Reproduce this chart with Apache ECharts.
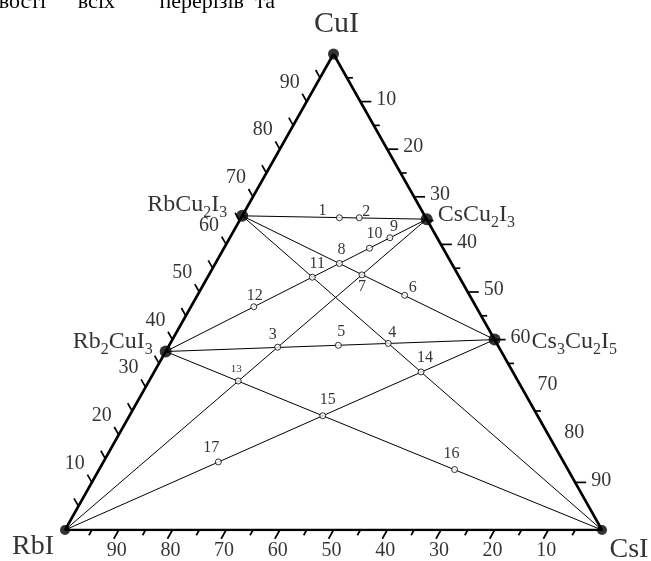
<!DOCTYPE html>
<html>
<head>
<meta charset="utf-8">
<script src="https://cdn.jsdelivr.net/npm/echarts@6/dist/echarts.min.js"></script>
<style>
html, body { margin: 0; padding: 0; background: #fff; }
#main { width: 651px; height: 561px; }
</style>
</head>
<body>
<div id="main"></div>
<script>
// склад: мол.% CuI та CsI, решта - RbI
const vertexNames = ['CuI', 'RbI', 'CsI'];
const vertexCuI = [100, 0, 0];
const vertexCsI = [0, 0, 100];

const compoundNames = ['RbCu2I3', 'CsCu2I3', 'Rb2CuI3', 'Cs3Cu2I5'];
const compoundCuI = [66, 65.3, 37.5, 40];
const compoundCsI = [0, 34.7, 0, 60];

// перерізи
const sections = [
  ['RbCu2I3', 'CsCu2I3'],
  ['Rb2CuI3', 'Cs3Cu2I5'],
  ['RbCu2I3', 'Cs3Cu2I5'],
  ['Rb2CuI3', 'CsCu2I3'],
  ['RbCu2I3', 'CsI'],
  ['RbI', 'CsCu2I3'],
  ['RbI', 'Cs3Cu2I5'],
  ['Rb2CuI3', 'CsI']
];

const pointLabels = ['1', '2', '3', '4', '5', '6', '7', '8', '9', '10', '11', '12', '13', '14', '15', '16', '17'];
const pointCuI = [65.6, 65.6, 38.4, 39.2, 38.8, 49.3, 53.6, 56.0, 61.4, 59.2, 53.1, 46.9, 31.3, 33.2, 24.0, 12.7, 14.3];
const pointCsI = [18.3, 22.0, 20.4, 40.6, 31.5, 38.6, 28.5, 23.1, 29.8, 27.1, 19.5, 11.7, 16.6, 49.7, 36.0, 66.2, 21.4];

// шкали
const leftTicks = [5, 10, 15, 20, 25, 30, 35, 40, 45, 50, 55, 60, 65, 70, 75, 80, 85, 90, 95];
const rightTicks = [5, 10, 15, 20, 25, 30, 35, 40, 45, 50, 55, 60, 65, 75, 90];
const bottomTicks = [5, 10, 15, 20, 25, 30, 35, 40, 45, 50, 55, 60, 65, 70, 75, 80, 85, 90, 95];
const leftLabels = [10, 20, 30, 40, 50, 60, 70, 80, 90];
const rightLabels = [10, 20, 30, 40, 50, 60, 70, 80, 90];
const bottomLabels = [90, 80, 70, 60, 50, 40, 30, 20, 10];

const headerWords = ['вості', 'всіх', 'перерізів', 'та'];

// styles
const serif = 'Liberation Serif';
const vertexLabelPos = [[3, -30, 30], [-32, 17, 28], [27, 20, 28]];
const compoundLabelPos = [[-15, -11, 'right'], [11, -4, 'left'], [-13, -10, 'right'], [37, 2, 'left']];
const pointLabelPos = [[-17, -7], [7, -6], [-5, -12], [4, -11], [3, -14], [8, -8], [0, 12], [2, -14], [4, -11],
  [5, -14], [5, -13], [1, -11], [-2, -12], [4, -14], [5, -16], [-3, -16], [-7, -14]];
const headerX = [46, 115, 244, 275];

function tern(cu, cs) { return [cs + cu / 2, cu]; }

function findComp(name) {
  let i = vertexNames.indexOf(name);
  if (i >= 0) return tern(vertexCuI[i], vertexCsI[i]);
  i = compoundNames.indexOf(name);
  return tern(compoundCuI[i], compoundCsI[i]);
}

function richName(s) {
  return s.replace(/([A-Za-z]+)|(\d+)/g, function (m, a, d) {
    return a ? '{m|' + a + '}' : '{s|' + d + '}';
  });
}

function unit(x, y) { const l = Math.sqrt(x * x + y * y); return [x / l, y / l]; }

const chart = echarts.init(document.getElementById('main'));

const series = [];

// ребра трикутника
series.push({
  type: 'line',
  data: [findComp('CuI'), findComp('RbI'), findComp('CsI'), findComp('CuI')],
  symbol: 'none',
  lineStyle: { color: '#000', width: 2.6 },
  z: 3,
  silent: true
});

sections.forEach(function (s) {
  series.push({
    type: 'line',
    data: [findComp(s[0]), findComp(s[1])],
    symbol: 'none',
    lineStyle: { color: '#000', width: 1 },
    z: 2,
    silent: true
  });
});

// риски
const tickData = [];
leftTicks.forEach(function (v) { tickData.push(tern(v, 0).concat([0, v])); });
rightTicks.forEach(function (v) { tickData.push(tern(100 - v, v).concat([1, v])); });
bottomTicks.forEach(function (v) { tickData.push(tern(0, 100 - v).concat([2, v])); });

series.push({
  type: 'custom',
  coordinateSystem: 'cartesian2d',
  data: tickData,
  encode: { x: 0, y: 1 },
  silent: true,
  z: 3,
  renderItem: function (params, api) {
    const edge = api.value(2), v = api.value(3);
    const p = api.coord([api.value(0), api.value(1)]);
    const top = api.coord(tern(100, 0)), left = api.coord(tern(0, 0)), right = api.coord(tern(0, 100));
    let d, len;
    if (edge === 0) { d = unit(top[0] - right[0], top[1] - right[1]); len = 9; }
    else if (edge === 1) { d = [1, 0]; len = v % 10 === 0 ? 11 : 6; }
    else { d = unit(left[0] - top[0], left[1] - top[1]); len = v % 10 === 0 ? 10 : 6; }
    return {
      type: 'line',
      shape: { x1: p[0], y1: p[1], x2: p[0] + d[0] * len, y2: p[1] + d[1] * len },
      style: { stroke: '#000', lineWidth: 1.7 }
    };
  }
});

function tickLabelSeries(data, offset) {
  return {
    type: 'scatter',
    data: data,
    symbolSize: 1,
    itemStyle: { color: 'rgba(0,0,0,0)' },
    silent: true,
    z: 4,
    label: {
      show: true,
      position: 'inside',
      offset: offset,
      formatter: '{b}',
      color: '#000',
      fontFamily: serif,
      fontSize: 20,
      align: 'center',
      verticalAlign: 'middle'
    }
  };
}
series.push(tickLabelSeries(leftLabels.map(function (v) { return { name: String(v), value: tern(v, 0) }; }), [-17, -19]));
series.push(tickLabelSeries(rightLabels.map(function (v) { return { name: String(v), value: tern(100 - v, v) }; }), [26, -2]));
series.push(tickLabelSeries(bottomLabels.map(function (v) { return { name: String(v), value: tern(0, 100 - v) }; }), [-2, 21]));

// вершини
series.push({
  type: 'scatter',
  silent: true,
  z: 5,
  data: vertexNames.map(function (n, i) {
    return {
      name: n,
      value: tern(vertexCuI[i], vertexCsI[i]),
      symbolSize: i === 0 ? 11 : 10,
      label: { offset: [vertexLabelPos[i][0], vertexLabelPos[i][1]], fontSize: vertexLabelPos[i][2] }
    };
  }),
  itemStyle: { color: '#000' },
  label: {
    show: true,
    position: 'inside',
    formatter: '{b}',
    color: '#000',
    fontFamily: serif,
    align: 'center',
    verticalAlign: 'middle'
  }
});

// сполуки
series.push({
  type: 'scatter',
  silent: true,
  z: 5,
  symbolSize: 12,
  itemStyle: { color: '#000' },
  data: compoundNames.map(function (n, i) {
    return {
      name: n,
      value: tern(compoundCuI[i], compoundCsI[i]),
      label: { offset: [compoundLabelPos[i][0], compoundLabelPos[i][1]], align: compoundLabelPos[i][2] }
    };
  }),
  label: {
    show: true,
    position: 'inside',
    verticalAlign: 'middle',
    formatter: function (p) { return richName(p.name); },
    rich: {
      m: { fontFamily: serif, fontSize: 24, lineHeight: 24, verticalAlign: 'top', color: '#000' },
      s: { fontFamily: serif, fontSize: 16, lineHeight: 16, padding: [12, 0, 0, 0], verticalAlign: 'top', color: '#000' }
    }
  }
});

// точки
series.push({
  type: 'scatter',
  silent: true,
  z: 6,
  symbolSize: 6,
  itemStyle: { color: '#fff', borderColor: '#000', borderWidth: 1 },
  data: pointLabels.map(function (n, i) {
    return {
      name: n,
      value: tern(pointCuI[i], pointCsI[i]),
      label: { offset: pointLabelPos[i], fontSize: n === '13' ? 11 : 16 }
    };
  }),
  label: {
    show: true,
    position: 'inside',
    formatter: '{b}',
    color: '#000',
    fontFamily: serif,
    align: 'center',
    verticalAlign: 'middle'
  }
});

chart.setOption({
  animation: false,
  backgroundColor: '#fff',
  grid: { left: 65, right: 49, top: 54, bottom: 31 },
  xAxis: { type: 'value', min: 0, max: 100, show: false },
  yAxis: { type: 'value', min: 0, max: 100, show: false },
  graphic: headerWords.map(function (w, i) {
    return {
      type: 'text',
      x: headerX[i],
      y: 2,
      style: { text: w, fill: '#000', font: '22px "Liberation Serif"', align: 'right', verticalAlign: 'middle' }
    };
  }),
  series: series
});
</script>
</body>
</html>
